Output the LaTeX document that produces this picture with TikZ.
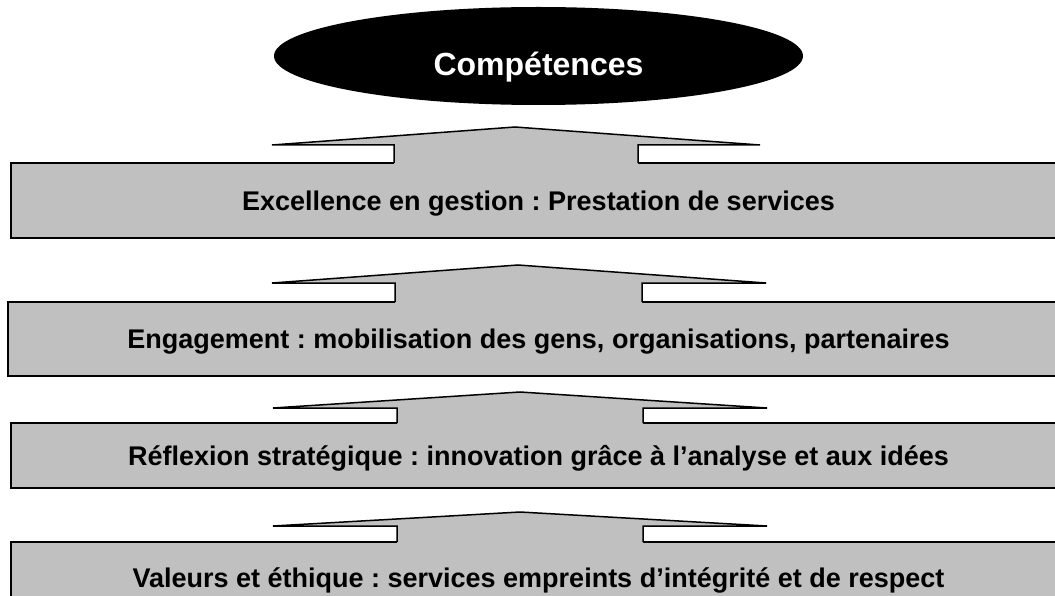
\documentclass[tikz,border=0pt]{standalone}
\usepackage{fontspec}
\setmainfont{Liberation Sans}
\frenchspacing
\usetikzlibrary{shapes.geometric}

% upward arrow resting on a level box:
% #1 left tip x, #2 right tip x, #3 shelf y, #4 apex x, #5 apex y,
% #6 shaft left x, #7 shaft right x, #8 top edge of the box below
\newcommand\risearrow[8]{%
  \fill[panel] (#1,#3) -- (#4,#5) -- (#2,#3) -- (#7,#3) -- (#7,#8+2)
    -- (#6,#8+2) -- (#6,#3) -- cycle;
  \draw[outline] (#6,#8) -- (#6,#3) -- (#1,#3) -- (#4,#5) -- (#2,#3)
    -- (#7,#3) -- (#7,#8);
}

\begin{document}
\begin{tikzpicture}[x=1pt,y=-1pt,
  outline/.style={draw=black,line width=1.5pt},
  panel/.style={fill=levelgray},
  level/.style={outline,panel,inner sep=0pt,align=center,
    text height=19.3pt,text depth=0pt,
    font=\bfseries\fontsize{27}{31}\selectfont},
  goal/.style={ellipse,fill=black,inner sep=0pt},
  goaltext/.style={inner sep=0pt,text=white,text height=22.9pt,text depth=0pt,
    font=\bfseries\fontsize{32}{37}\selectfont}]
\definecolor{levelgray}{HTML}{C0C0C0}
\useasboundingbox (0,0) rectangle (1055,596);
\clip (0,0) rectangle (1055,596);

% goal at the top
\node[goal,minimum width=529pt,minimum height=98pt] (comp) at (538.5,56) {};
\node[goaltext] (comptext) at (538.5,64) {Compétences};

% the four levels, bottom one partly off the page
\node[level,minimum width=1055pt,minimum height=75pt] (l1) at (538.5,200.5)
  {Excellence en gestion : Prestation de services};
\node[level,minimum width=1061pt,minimum height=74pt] (l2) at (538.5,339)
  {Engagement : mobilisation des gens, organisations, partenaires};
\node[level,minimum width=1055pt,minimum height=65pt] (l3) at (538.5,455.5)
  {Réflexion stratégique : innovation grâce à l’analyse et aux idées};
\node[level,minimum width=1055pt,minimum height=72pt] (l4) at (538.5,578)
  {Valeurs et éthique : services empreints d’intégrité et de respect};

% arrows rising from each level
\risearrow{272}{760}{145}{515}{127}{394}{638}{163}
\risearrow{272}{766}{283}{518}{265}{395}{642}{302}
\risearrow{273}{767}{408}{520}{392}{397}{643}{423}
\risearrow{273}{767}{526}{520}{512}{397}{643}{542}
\end{tikzpicture}
\end{document}
